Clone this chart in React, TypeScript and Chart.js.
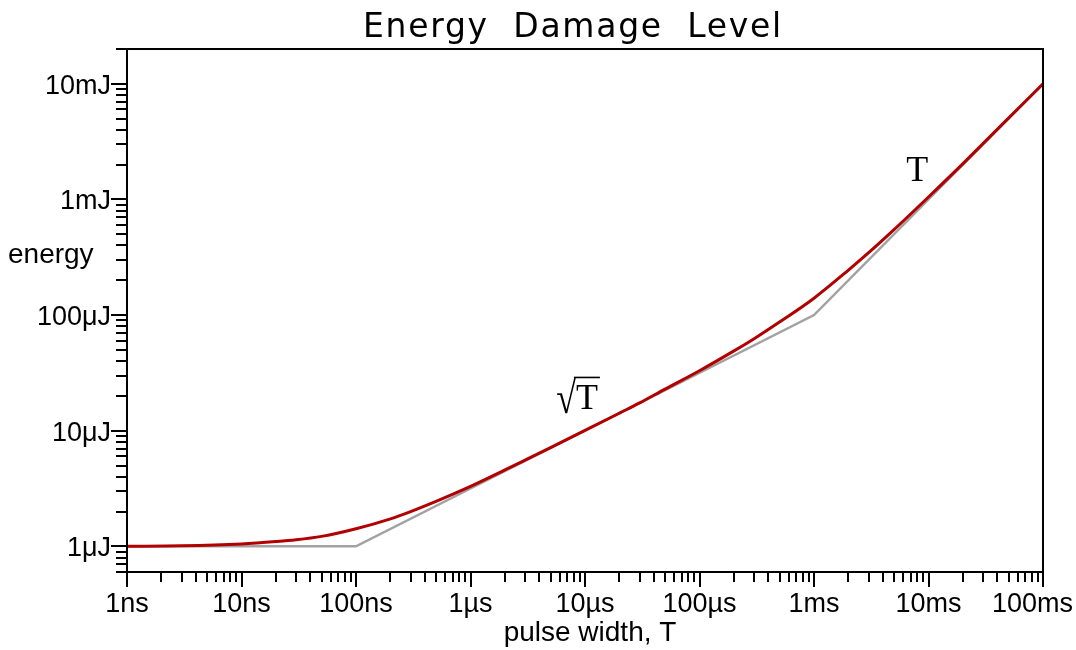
import { useEffect, useRef } from 'react';
import { Chart, registerables } from 'chart.js';

Chart.register(...registerables);

// ---- data (seconds / microjoules) ----
const pulseWidthS = [
  1e-9, 3e-9, 1e-8, 2e-8, 3e-8, 5e-8, 1e-7, 2e-7, 3e-7, 5e-7,
  1e-6, 2e-6, 3e-6, 5e-6, 1e-5, 2e-5, 3e-5, 5e-5, 1e-4, 2e-4,
  3e-4, 5e-4, 1e-3, 2e-3, 3e-3, 5e-3, 1e-2, 2e-2, 5e-2, 1e-1,
];
const damageEnergyUJ = [
  1.0, 1.01, 1.05, 1.1, 1.14, 1.22, 1.42, 1.73, 2.0, 2.45,
  3.3, 4.58, 5.57, 7.14, 10.05, 14.2, 17.4, 22.9, 33.0, 49.0,
  62.5, 87.0, 140, 245, 346, 548, 1050, 2040, 5050, 10000,
];
const asymptoteS = [1e-9, 1e-7, 1e-3, 1e-1];
const asymptoteUJ = [1, 1, 100, 10000];

const xDecades = [-9, -8, -7, -6, -5, -4, -3, -2, -1];
const xTickLabels = ['1ns', '10ns', '100ns', '1µs', '10µs', '100µs', '1ms', '10ms', '100ms'];
const yDecades = [-6, -5, -4, -3, -2];
const yTickLabels = ['1μJ', '10μJ', '100μJ', '1mJ', '10mJ'];
const minorSteps = [2, 3, 4, 5, 6, 7, 8, 9];
const xMin = 1e-9;
const xMax = 1e-1;
const yMin = 6e-7;
const yMax = 2e-2;

const titleText = 'Energy  Damage  Level';
const xTitle = 'pulse width, T';
const yTitle = 'energy';
const sqrtAnchor = { x: 5.6e-6, y: 1.55e-5 };
const linAnchor = { x: 6.4e-3, y: 1.43e-3 };

function buildTicks(decades: number[], lo: number, hi: number) {
  const out: { value: number; major: boolean }[] = [];
  const first = decades[0] - 1;
  const last = decades[decades.length - 1];
  for (let d = first; d <= last; d++) {
    const base = Math.pow(10, d);
    if (base >= lo * 0.999 && base <= hi * 1.001) out.push({ value: base, major: true });
    for (const m of minorSteps) {
      const v = m * base;
      if (v >= lo * 0.999 && v <= hi * 1.001) out.push({ value: v, major: false });
    }
  }
  return out;
}

const FONT = '"Liberation Sans", Arial, sans-serif';

const decorPlugin = {
  id: 'decor',
  afterDraw(chart: any) {
    const { ctx, chartArea: a, scales } = chart;
    const x = scales.x;
    const y = scales.y;
    ctx.save();
    ctx.strokeStyle = '#000';
    ctx.fillStyle = '#000';
    ctx.lineWidth = 2;
    ctx.strokeRect(a.left, a.top, a.right - a.left, a.bottom - a.top);

    // ticks
    ctx.beginPath();
    x.ticks.forEach((t: any) => {
      const px = Math.round(x.getPixelForValue(t.value));
      const len = t.major ? 15 : 10;
      ctx.moveTo(px, a.bottom);
      ctx.lineTo(px, a.bottom + len);
    });
    y.ticks.forEach((t: any) => {
      const py = Math.round(y.getPixelForValue(t.value));
      const len = t.major ? 16 : 11;
      ctx.moveTo(a.left - len, py);
      ctx.lineTo(a.left, py);
    });
    ctx.stroke();

    // tick labels
    ctx.font = `27px ${FONT}`;
    ctx.textBaseline = 'alphabetic';
    xDecades.forEach((d, i) => {
      const px = x.getPixelForValue(Math.pow(10, d));
      const w = ctx.measureText(xTickLabels[i]).width;
      let left = px - w / 2;
      if (left + w > chart.width - 3) left = chart.width - 3 - w;
      ctx.textAlign = 'left';
      ctx.fillText(xTickLabels[i], left, a.bottom + 40);
    });
    ctx.textAlign = 'right';
    yDecades.forEach((d, i) => {
      const py = y.getPixelForValue(Math.pow(10, d));
      ctx.fillText(yTickLabels[i], a.left - 16, py + 10);
    });

    // axis titles
    ctx.font = `28px ${FONT}`;
    ctx.textAlign = 'center';
    ctx.fillText(xTitle, (a.left + a.right) / 2 + 5, a.bottom + 69);
    ctx.textAlign = 'left';
    ctx.fillText(yTitle, 8, 263);

    // title
    ctx.font = '33px "DejaVu Sans", sans-serif';
    const baseW = ctx.measureText(titleText).width;
    const target = 420;
    const ls = Math.max(0, (target - baseW) / titleText.length);
    (ctx as any).letterSpacing = `${ls}px`;
    ctx.textAlign = 'left';
    ctx.fillText(titleText, 573 - target / 2, 37);
    (ctx as any).letterSpacing = '0px';

    // slope annotations
    ctx.font = '36px "Liberation Serif", "Times New Roman", serif';
    const sx = x.getPixelForValue(sqrtAnchor.x);
    const sy = y.getPixelForValue(sqrtAnchor.y);
    const rad = '√';
    const radM = ctx.measureText(rad);
    const stretch = 1.25;
    ctx.save();
    ctx.translate(sx, sy + 4);
    ctx.scale(1, stretch);
    ctx.fillText(rad, 0, 0);
    ctx.restore();
    const tW = ctx.measureText('T').width;
    ctx.fillText('T', sx + radM.width, sy);
    const barY = sy + 4 - radM.actualBoundingBoxAscent * stretch + 1;
    ctx.lineWidth = 1.6;
    ctx.beginPath();
    ctx.moveTo(sx + radM.width - 2, barY);
    ctx.lineTo(sx + radM.width + tW + 2, barY);
    ctx.stroke();

    const lx = x.getPixelForValue(linAnchor.x);
    const ly = y.getPixelForValue(linAnchor.y);
    ctx.fillText('T', lx, ly);
    ctx.restore();
  },
};

export default function App() {
  const ref = useRef<HTMLCanvasElement | null>(null);
  useEffect(() => {
    if (!ref.current) return;
    const xTicks = buildTicks(xDecades, xMin, xMax);
    const yTicks = buildTicks(yDecades, yMin, yMax);
    const chart = new Chart(ref.current, {
      type: 'line',
      data: {
        datasets: [
          {
            data: pulseWidthS.map((t, i) => ({ x: t, y: damageEnergyUJ[i] * 1e-6 })),
            borderColor: '#b20000',
            borderWidth: 3,
            pointRadius: 0,
            cubicInterpolationMode: 'monotone',
            fill: false,
          },
          {
            data: asymptoteS.map((t, i) => ({ x: t, y: asymptoteUJ[i] * 1e-6 })),
            borderColor: '#a2a2a2',
            borderWidth: 2.5,
            pointRadius: 0,
            tension: 0,
            fill: false,
          },
        ],
      },
      options: {
        animation: false,
        responsive: false,
        layout: { padding: { left: 0, right: 33, top: 49, bottom: 0 } },
        plugins: { legend: { display: false }, tooltip: { enabled: false }, title: { display: false } },
        scales: {
          x: {
            type: 'logarithmic',
            min: xMin,
            max: xMax,
            grid: { display: false },
            border: { display: false },
            ticks: { display: false },
            afterBuildTicks: (s: any) => {
              s.ticks = xTicks.map((t) => ({ ...t }));
            },
            afterFit: (s: any) => {
              s.height = 78;
              s.paddingLeft = 0;
              s.paddingRight = 0;
            },
          },
          y: {
            type: 'logarithmic',
            min: yMin,
            max: yMax,
            grid: { display: false },
            border: { display: false },
            ticks: { display: false },
            afterBuildTicks: (s: any) => {
              s.ticks = yTicks.map((t) => ({ ...t }));
            },
            afterFit: (s: any) => {
              s.width = 127;
              s.paddingTop = 0;
              s.paddingBottom = 0;
            },
          },
        },
      } as any,
      plugins: [decorPlugin],
    });
    return () => chart.destroy();
  }, []);
  return (
    <div style={{ position: 'fixed', left: 0, top: 0, width: 1076, height: 650, background: '#fff' }}>
      <canvas ref={ref} width={1076} height={650} style={{ width: 1076, height: 650, display: 'block' }} />
    </div>
  );
}
